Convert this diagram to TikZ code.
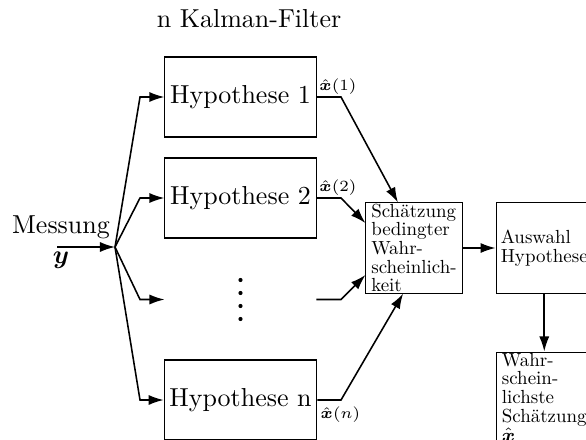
\documentclass[tikz,border=0pt]{standalone}
\usepackage{fontspec}
\usepackage{amsmath}
\usetikzlibrary{arrows.meta,positioning}
\newfontfamily\boxfont{lmroman10-regular.otf}

\begin{document}
\begin{tikzpicture}
[ x=0.385pt, y=-0.385pt,
		node distance=22.3pt and 12.7pt,
		filter/.style={rectangle,draw,thin,minimum width=58.1pt,minimum height=30.8pt,inner sep=2pt},
		stage/.style={rectangle,draw,thin,minimum width=37pt,minimum height=34.7pt,inner xsep=1.8pt,inner ysep=0pt,align=left,font=\boxfont\fontsize{7.3}{7.2}\selectfont},
		estimate/.style={font=\fontsize{6.2}{7}\selectfont},
		arrowOut/.style={-{Latex[length=5.8pt,width=3.9pt]},semithick},
		wire/.style={semithick}]

	\useasboundingbox (0,0) rectangle (586,439);
	\clip (0,0) rectangle (586,439);

	\node[anchor=base] (title) at (249,28) {n Kalman-Filter};

	% bank of filters
	\node[filter] (hyp1) at (240.5,97) {Hypothese 1};
	\node[filter] (hyp2) at (240.5,198) {Hypothese 2};
	\node[filter,draw=none] (gap) at (240.5,299.5) {};
	\node[filter] (hypn) at (240.5,400) {Hypothese n};
	\foreach \k in {-19.5,-6.5,6.5,19.5}
		\fill (gap.center) ++(0,\k) circle[radius=0.8pt];

	% measurement input
	\coordinate (in) at (57,247);
	\coordinate (split) at (115,247);
	\coordinate (fan) at (140,0);
	\coordinate (merge) at (341,0);
	\node[anchor=base] (meas) at (61,233) {Messung};
	\node[anchor=base] (y) at (61,263) {$\boldsymbol{y}$};
	\draw[arrowOut] (in) -- (split);
	\foreach \n in {hyp1,hyp2,gap,hypn}
		\draw[arrowOut] (split) -- (fan |- \n.west) -- (\n.west);

	% weighting and selection
	\node[stage] (weight) at (414,248) {Schätzung\\bedingter\\Wahr-\\scheinlich-\\keit};
	\node[stage] (select) [right=of weight] {Auswahl\\Hypothese};
	\node[stage] (best) [below=of select] {Wahr-\\schein-\\lichste\\Schätzung\\$\hat{\boldsymbol{x}}$};

	\draw[arrowOut] (hyp1.east) node[estimate,above right,inner sep=0.8pt] {$\hat{\boldsymbol{x}}(1)$}
		-- (merge |- hyp1.east) -- ([xshift=-6.2pt]weight.north);
	\draw[arrowOut] (hyp2.east) node[estimate,above right,inner sep=0.8pt] {$\hat{\boldsymbol{x}}(2)$}
		-- (merge |- hyp2.east) -- ([yshift=9.6pt]weight.west);
	\draw[arrowOut] (gap.east) -- (merge |- gap.east) -- ([yshift=-10.4pt]weight.west);
	\draw[arrowOut] (hypn.east) node[estimate,below right,inner xsep=1pt,inner ysep=2.5pt] {$\hat{\boldsymbol{x}}(n)$}
		-- (merge |- hypn.east) -- ([xshift=-4.2pt]weight.south);

	\draw[arrowOut] (weight) -- (select);
	\draw[arrowOut] (select) -- (best);
\end{tikzpicture}
\end{document}
